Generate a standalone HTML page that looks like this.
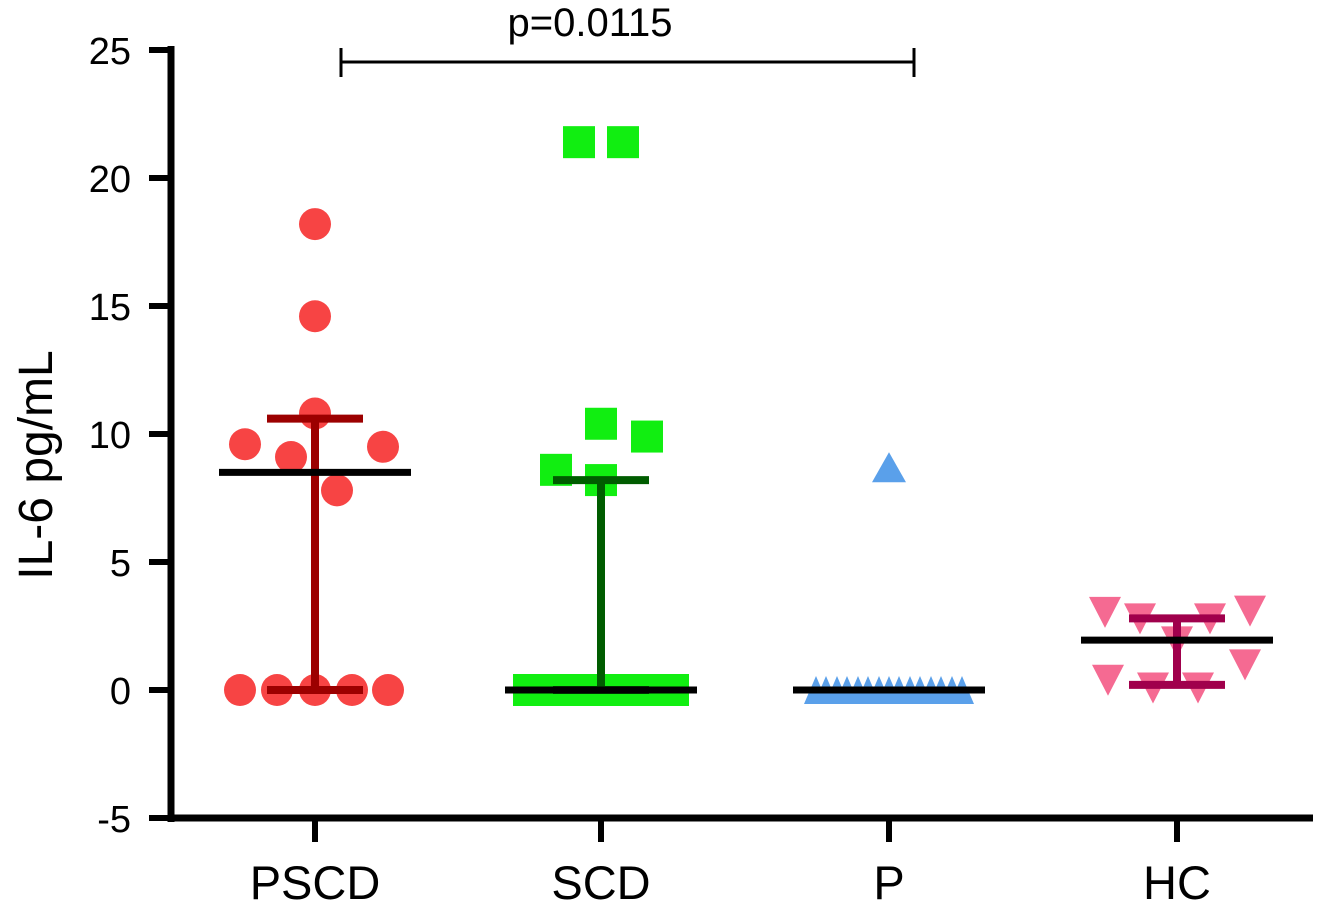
<!DOCTYPE html>
<html><head><meta charset="utf-8"><style>
body{margin:0;background:#fff}
svg{display:block;font-family:"Liberation Sans",Arial,sans-serif}
</style></head><body>
<svg id="chart" width="1325" height="910"></svg>
<script>
const categories=["PSCD","SCD","P","HC"];
const yTicks=[-5,0,5,10,15,20,25];
const pscdValues=[18.2,14.6,10.8,9.6,9.1,9.5,7.8,0,0,0,0,0];
const pscdOffsets=[0,0,0,-70,-24,68,22,-75,-38,0,37,73];
const scdValues=[21.4,21.4,10.4,9.9,8.6,8.2,0,0,0,0,0,0,0];
const scdOffsets=[-22,22,0,46,-45,0,-72,-43,-14,14,43,72,0];
const pValues=[8.7,0,0,0,0,0,0,0,0,0,0,0,0,0,0,0];
const pOffsets=[0,-73,-63,-52,-42,-31,-21,-10,0,10,21,31,42,52,63,73];
const hcValues=[3.05,2.8,2.8,3.1,1.9,0.4,0.1,0.1,1.0];
const hcOffsets=[-72,-37,33,73,0,-69,-24,21,68];
const medians=[8.5,0,0,1.95];
const errLow=[0,0,0,0.2];
const errHigh=[10.6,8.2,0,2.8];
const pText="p=0.0115";

const NS="http://www.w3.org/2000/svg";
const svg=document.getElementById("chart");
const X0=171,X1=1313;
const catX=[315,601,889,1177];
function yS(v){return 690-v*25.6;}
function xS(i){return catX[i];}
function el(t,a,p){const e=document.createElementNS(NS,t);for(const k in a)e.setAttribute(k,a[k]);(p||svg).appendChild(e);return e;}

let ax=el("line",{x1:X0,y1:46,x2:X0,y2:yS(-5)+4,stroke:"#000","stroke-width":7});


let bx=el("line",{x1:X0-3,y1:yS(-5),x2:X1,y2:yS(-5),stroke:"#000","stroke-width":7});


yTicks.forEach(t=>{
  const y=yS(t);
  const tk=el("line",{x1:149,y1:y,x2:X0,y2:y,stroke:"#000","stroke-width":6});
  
  
  const tx=el("text",{x:131,y:y+14,"text-anchor":"end","font-size":38});
  tx.textContent=t;
  
  
});
categories.forEach((c,i)=>{
  const x=xS(i);
  const tk=el("line",{x1:x,y1:yS(-5),x2:x,y2:842,stroke:"#000","stroke-width":6});
  
  
  const tx=el("text",{x:x,y:899,"text-anchor":"middle","font-size":47});
  tx.textContent=c;
  
  
});
const yt=el("text",{x:0,y:0,transform:"translate(52,465) rotate(-90)","text-anchor":"middle","font-size":48});
yt.textContent="IL-6 pg/mL";



pscdValues.forEach((v,k)=>{
  const c=el("circle",{cx:xS(0)+pscdOffsets[k],cy:yS(v),r:16,fill:"#f74444"});
  
  
});
scdValues.forEach((v,k)=>{
  const s=el("rect",{x:xS(1)+scdOffsets[k]-16,y:yS(v)-16,width:32,height:32,fill:"#11ee11"});
  
  
});
pValues.forEach((v,k)=>{
  const cx=xS(2)+pOffsets[k],cy=yS(v);
  const w=v===0?12:17,h=v===0?28:30;
  const t=el("polygon",{points:`${cx},${cy-h/2} ${cx+w},${cy+h/2} ${cx-w},${cy+h/2}`,fill:"#5aa0ea"});
  
  
});
hcValues.forEach((v,k)=>{
  const cx=xS(3)+hcOffsets[k],cy=yS(v);
  const t=el("polygon",{points:`${cx-16},${cy-15} ${cx+16},${cy-15} ${cx},${cy+16}`,fill:"#f56a92"});
  
  
});

const errColors=["#9c0000","#005c00","#000","#a0004c"];
categories.forEach((c,i)=>{
  const x=xS(i);
  if(errHigh[i]>errLow[i]){
    const g=el("g",{stroke:errColors[i],"stroke-width":8});
    
    
    el("line",{x1:x,y1:yS(errLow[i]),x2:x,y2:yS(errHigh[i])},g);
    el("line",{x1:x-48,y1:yS(errHigh[i]),x2:x+48,y2:yS(errHigh[i])},g);
    el("line",{x1:x-48,y1:yS(errLow[i]),x2:x+48,y2:yS(errLow[i])},g);
  }
  const m=el("line",{x1:x-96,y1:yS(medians[i]),x2:x+96,y2:yS(medians[i]),stroke:"#000","stroke-width":7});
  
  
});

const br=el("g",{stroke:"#000","stroke-width":3});


el("line",{x1:341,y1:62,x2:914,y2:62},br);
el("line",{x1:341,y1:48,x2:341,y2:77},br);
el("line",{x1:914,y1:48,x2:914,y2:77},br);
const pt=el("text",{x:590,y:36,"text-anchor":"middle","font-size":40});
pt.textContent=pText;


</script>
</body></html>
